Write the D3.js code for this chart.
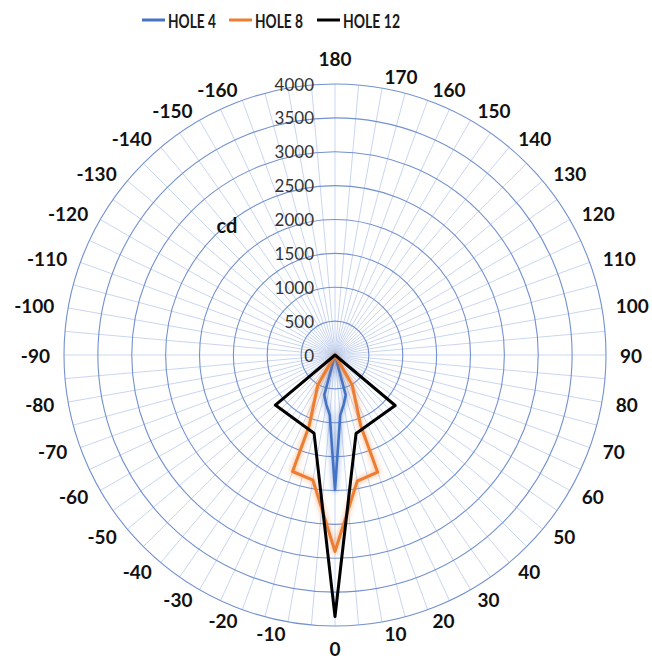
<!DOCTYPE html>
<html>
<head>
<meta charset="utf-8">
<script src="https://cdn.jsdelivr.net/npm/d3@7"></script>
<style>
  body { margin: 0; background: #fff; }
  svg { display: block; }
</style>
</head>
<body>
<svg id="chart" width="652" height="660"></svg>
<script>
// Series
const seriesNames = ["HOLE 4", "HOLE 8", "HOLE 12"];
const seriesColors = ["#4472C4", "#ED7D31", "#000000"];

// Vertex angles in degrees (0 = down, positive toward the right, 180 = up) and luminous intensity in cd
const hole4Angles = [0, 5, 10, 15, 20, -20, -15, -10, -5];
const hole4Values = [1990, 890, 740, 610, 0, 0, 610, 740, 890];

const hole8Angles = [0, 10, 20, 20, 30, 35, -35, -30, -20, -20, -10];
const hole8Values = [2900, 1890, 1840, 1110, 505, 0, 0, 505, 1120, 1830, 1875];

const hole12Angles = [0, 15, 50, 55, -55, -50, -15];
const hole12Values = [3860, 1200, 1160, 0, 0, 1150, 1195];

// Axes
const radialTicks = [0, 500, 1000, 1500, 2000, 2500, 3000, 3500, 4000];
const spokeAngles = d3.range(0, 360, 5);
const angleLabels = [180, 170, 160, 150, 140, 130, 120, 110, 100, 90, 80, 70, 60, 50, 40, 30, 20, 10, 0,
                     -10, -20, -30, -40, -50, -60, -70, -80, -90, -100, -110, -120, -130, -140, -150, -160];
const unitLabel = "cd";

const svg = d3.select("#chart");
const cx = 335, cy = 355, R = 271;
const r = d3.scaleLinear().domain([0, 4000]).range([0, R]);
const rad = d => d * Math.PI / 180;
// screen position for an angle measured from the bottom, turning toward the right
const px = (deg, rr) => cx + rr * Math.sin(rad(deg));
const py = (deg, rr) => cy + rr * Math.cos(rad(deg));

const defs = svg.append("defs");
defs.append("filter").attr("id", "glow")
  .attr("x", "-20%").attr("y", "-20%").attr("width", "140%").attr("height", "140%")
  .append("feGaussianBlur").attr("stdDeviation", 2);

const g = svg.append("g");

// spokes
g.append("g").selectAll("line").data(spokeAngles).join("line")
  .attr("x1", cx).attr("y1", cy)
  .attr("x2", d => px(d, R)).attr("y2", d => py(d, R))
  .attr("stroke", "#c9d6f0").attr("stroke-width", 1);

// rings
g.append("g").selectAll("circle").data(radialTicks.filter(v => v > 0)).join("circle")
  .attr("cx", cx).attr("cy", cy).attr("r", d => r(d))
  .attr("fill", "none").attr("stroke", "#7391d0").attr("stroke-width", 1.1);

// radial tick labels
g.append("g").selectAll("text").data(radialTicks).join("text")
  .attr("x", cx - 21).attr("y", d => cy - r(d))
  .attr("text-anchor", "end").attr("dominant-baseline", "central")
  .attr("font-family", "Lato, 'Open Sans', sans-serif").attr("font-size", 17)
  .attr("fill", "#333")
  .text(d => d);

// angle labels
const labR = 285;
g.append("g").selectAll("text").data(angleLabels).join("text")
  .each(function(d) {
    const s = Math.sin(rad(d)), c = Math.cos(rad(d));
    const t = d3.select(this);
    if (Math.abs(s) < 0.01) {
      t.attr("x", px(d, labR)).attr("y", py(d, labR) + c * (c > 0 ? 8 : 12)).attr("text-anchor", "middle");
    } else {
      t.attr("x", px(d, labR)).attr("y", py(d, labR) - 2.5 * c)
       .attr("text-anchor", s > 0 ? "start" : "end");
    }
  })
  .attr("dominant-baseline", "central")
  .attr("font-family", "Lato, 'Open Sans', sans-serif").attr("font-weight", 700).attr("font-size", 19)
  .attr("fill", "#111")
  .text(d => d);

// unit label
g.append("text").attr("x", 227).attr("y", 225)
  .attr("text-anchor", "middle").attr("dominant-baseline", "central")
  .attr("font-family", "Lato, 'Open Sans', sans-serif").attr("font-weight", 700).attr("font-size", 20)
  .attr("fill", "#111").text(unitLabel);

// series
const series = [
  { angles: hole4Angles, values: hole4Values, glow: true, width: 2.6 },
  { angles: hole8Angles, values: hole8Values, glow: true, width: 3 },
  { angles: hole12Angles, values: hole12Values, glow: false, width: 3 }
];
const line = d3.lineRadial()
  .angle(d => Math.PI - rad(d[0]))
  .radius(d => r(d[1]))
  .curve(d3.curveLinearClosed);

const sg = g.append("g").attr("transform", `translate(${cx},${cy})`);
series.forEach((s, i) => {
  const pts = s.angles.map((a, k) => [a, s.values[k]]);
  if (s.glow) {
    sg.append("path").attr("d", line(pts))
      .attr("fill", "none").attr("stroke", seriesColors[i])
      .attr("stroke-width", 6).attr("stroke-opacity", 0.35)
      .attr("stroke-linejoin", "round").attr("filter", "url(#glow)");
  }
  sg.append("path").attr("d", line(pts))
    .attr("fill", "none").attr("stroke", seriesColors[i])
    .attr("stroke-width", s.width).attr("stroke-linejoin", "round");
});

// legend
const legendX = [142, 229, 317];
const legendW = [48, 48, 57];
const lg = svg.append("g");
seriesNames.forEach((name, i) => {
  lg.append("line").attr("x1", legendX[i]).attr("x2", legendX[i] + 23)
    .attr("y1", 20).attr("y2", 20)
    .attr("stroke", seriesColors[i]).attr("stroke-width", 3);
  lg.append("text").attr("x", legendX[i] + 26).attr("y", 20.5)
    .attr("dominant-baseline", "central")
    .attr("font-family", "Lato, 'Open Sans', sans-serif").attr("font-weight", 700).attr("font-size", 19)
    .attr("textLength", legendW[i]).attr("lengthAdjust", "spacingAndGlyphs")
    .attr("fill", "#1a1a1a").text(name);
});
</script>
</body>
</html>
